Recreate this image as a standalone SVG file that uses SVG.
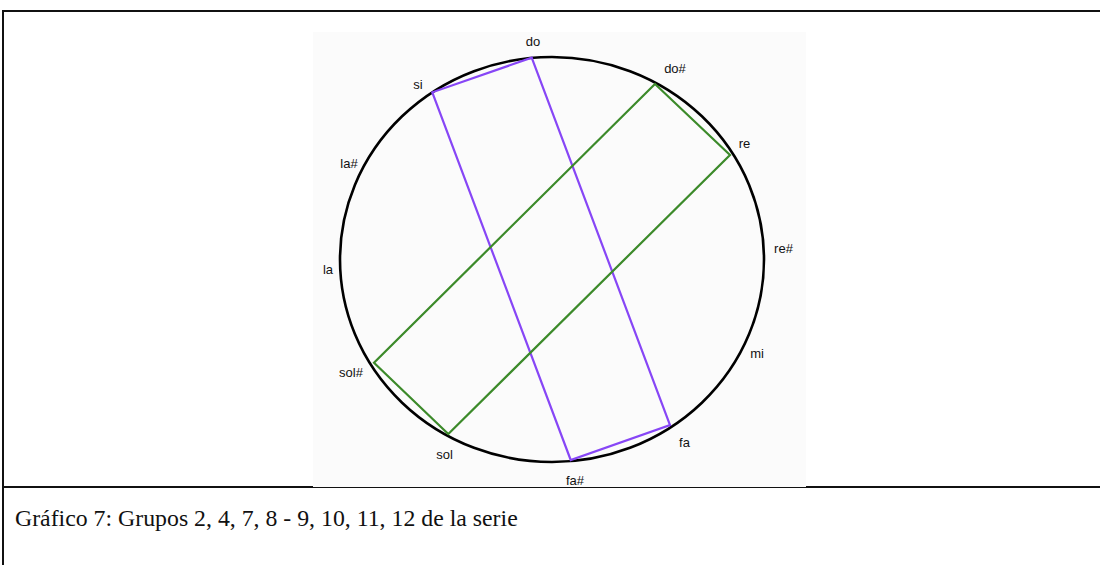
<svg xmlns="http://www.w3.org/2000/svg" width="1100" height="565" viewBox="0 0 1100 565">
  <style>
    .lbl { font-family: "Liberation Sans", Arial, sans-serif; font-size: 13px; fill: #111; text-anchor: middle; }
    .cap { font-family: "Liberation Serif", "Times New Roman", serif; font-size: 23.8px; fill: #111; }
    .purple { fill: none; stroke: #8746F6; stroke-width: 2.2; stroke-linejoin: miter; }
    .green { fill: none; stroke: #3C8A2A; stroke-width: 2.2; stroke-linejoin: miter; }
    .frame { stroke: #111; stroke-width: 2; fill: none; }
  </style>
  <rect x="0" y="0" width="1100" height="565" fill="#ffffff"/>
  <g id="frame">
    <line class="frame" x1="3" y1="11" x2="1100" y2="11"/>
    <line class="frame" x1="3" y1="10" x2="3" y2="565"/>
    <line class="frame" x1="3" y1="487" x2="1100" y2="487"/>
  </g>
  <rect id="panel" x="313" y="32" width="493" height="455" fill="#fbfbfb"/>
  <g id="circle">
    <ellipse cx="552" cy="259.5" rx="212" ry="202.5" fill="none" stroke="#000" stroke-width="2.6"/>
  </g>
  <g id="connectors">
    <polygon class="purple" points="531.7,57.7 670,425 570.7,460 432.3,92.3"/>
    <polygon class="green" points="655,84 730,155 448.3,434 374,362.7"/>
  </g>
  <g id="labels">
    <g id="n-do"><text class="lbl" x="533" y="46">do</text></g>
    <g id="n-si"><text class="lbl" x="418" y="88.5">si</text></g>
    <g id="n-dos"><text class="lbl" x="675" y="73">do#</text></g>
    <g id="n-re"><text class="lbl" x="744.5" y="148">re</text></g>
    <g id="n-las"><text class="lbl" x="349" y="168">la#</text></g>
    <g id="n-res"><text class="lbl" x="783.5" y="252.5">re#</text></g>
    <g id="n-la"><text class="lbl" x="328" y="274">la</text></g>
    <g id="n-mi"><text class="lbl" x="757" y="358">mi</text></g>
    <g id="n-sols"><text class="lbl" x="351" y="377">sol#</text></g>
    <g id="n-sol"><text class="lbl" x="444.5" y="459">sol</text></g>
    <g id="n-fa"><text class="lbl" x="684.5" y="447">fa</text></g>
    <g id="n-fas"><text class="lbl" x="575" y="485">fa#</text></g>
  </g>
  <text class="cap" x="15" y="526">Gráfico 7: Grupos 2, 4, 7, 8 - 9, 10, 11, 12 de la serie</text>
</svg>
